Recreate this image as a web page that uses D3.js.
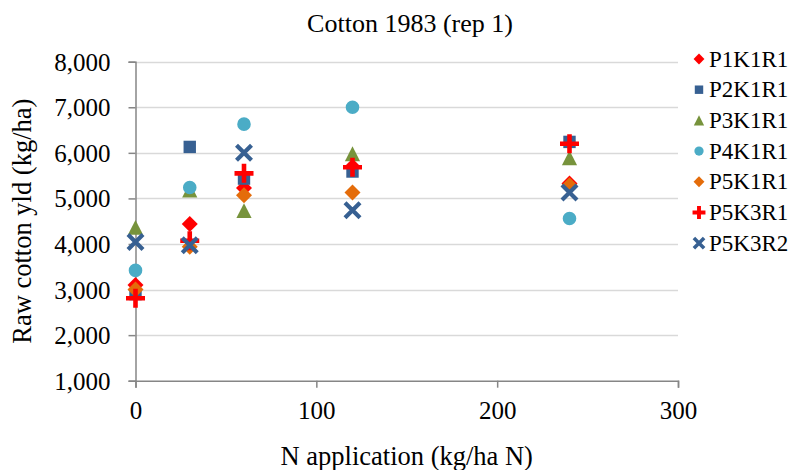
<!DOCTYPE html>
<html>
<head>
<meta charset="utf-8">
<script src="https://cdn.jsdelivr.net/npm/d3@7"></script>
<style>
  html, body { margin: 0; padding: 0; background: #fff; }
  svg { display: block; }
  svg text { font-family: "Liberation Serif", "Times New Roman", serif; }
</style>
</head>
<body>
<svg id="chart" width="796" height="470"></svg>
<script>
// Nitrogen rates (kg/ha N)
const nRates = [0, 30, 60, 120, 240];

// Raw cotton yield (kg/ha) per treatment, one value per N rate
const P1K1R1 = [3100, 4440, 5230, 5700, 5330];
const P2K1R1 = [2900, 6130, 5435, 5590, 6240];
const P3K1R1 = [4365, 5180, 4730, 5980, 5890];
const P4K1R1 = [3420, 5240, 6630, 7000, 4560];
const P5K1R1 = [3000, 3940, 5070, 5130, 5290];
const P5K3R1 = [2810, 4070, 5550, 5685, 6200];
const P5K3R2 = [4045, 3970, 6000, 4740, 5130];

const seriesNames = ["P1K1R1", "P2K1R1", "P3K1R1", "P4K1R1", "P5K1R1", "P5K3R1", "P5K3R2"];
const seriesValues = [P1K1R1, P2K1R1, P3K1R1, P4K1R1, P5K1R1, P5K3R1, P5K3R2];
const seriesColors = ["#ff0000", "#376092", "#77933c", "#4bacc6", "#e46c0a", "#ff0000", "#376092"];
const seriesShapes = ["diamond", "square", "triangle", "circle", "diamond", "plus", "cross"];

const xTicks = [0, 100, 200, 300];
const yTicks = [1000, 2000, 3000, 4000, 5000, 6000, 7000, 8000];

const titleText = "Cotton 1983 (rep 1)";
const xTitle = "N application (kg/ha N)";
const yTitle = "Raw cotton yld (kg/ha)";

const serif = "'Liberation Serif', 'Times New Roman', serif";

const svg = d3.select("#chart");
const plot = { left: 135.5, right: 678, top: 61.7, bottom: 380.7 };

const x = d3.scaleLinear().domain([0, 300]).range([plot.left, plot.right]);
const y = d3.scaleLinear().domain([1000, 8000]).range([plot.bottom, plot.top]);

// Marker geometry: s = 1 for plot markers, smaller for legend keys
function shapePath(shape, s) {
  switch (shape) {
    case "diamond": { const h = 8 * s; return `M0,${-h}L${h},0L0,${h}L${-h},0Z`; }
    case "square": { const h = 6.2 * s; return `M${-h},${-h}H${h}V${h}H${-h}Z`; }
    case "triangle": { const w = 7.6 * s, h = 7.4 * s; return `M0,${-h}L${w},${h}L${-w},${h}Z`; }
    case "circle": { const r = 6.8 * s; return `M${r},0A${r},${r} 0 1,1 ${-r},0A${r},${r} 0 1,1 ${r},0Z`; }
    case "plus": { const h = 9.5 * s; return `M${-h},0H${h}M0,${-h}V${h}`; }
    case "cross": { const h = 7.5 * s; return `M${-h},${-h}L${h},${h}M${h},${-h}L${-h},${h}`; }
  }
}
function drawMarker(g, shape, color, s) {
  const stroked = shape === "plus" || shape === "cross";
  g.append("path")
    .attr("d", shapePath(shape, s))
    .attr("fill", stroked ? "none" : color)
    .attr("stroke", stroked ? color : "none")
    .attr("stroke-width", stroked ? (shape === "plus" ? 4.6 : 4.2) * (s < 1 ? 0.85 : 1) : 0)
    .attr("stroke-linecap", "butt");
}

// Horizontal gridlines
svg.append("g")
  .selectAll("line")
  .data(yTicks.filter(v => v !== 1000))
  .join("line")
  .attr("x1", plot.left).attr("x2", plot.right)
  .attr("y1", d => Math.round(y(d)) + 0.5).attr("y2", d => Math.round(y(d)) + 0.5)
  .attr("stroke", "#d9d9d9").attr("stroke-width", 1.3);

// Y axis
const yAxis = svg.append("g")
  .attr("transform", `translate(${plot.left},0)`)
  .call(d3.axisLeft(y).tickValues(yTicks).tickSize(7).tickPadding(18).tickFormat(d3.format(",")))
  .attr("font-family", serif);
yAxis.select(".domain").attr("stroke", "#868686").attr("stroke-width", 1.5);
yAxis.selectAll(".tick line").attr("stroke", "#868686").attr("stroke-width", 1.5);
yAxis.selectAll(".tick text")
  .attr("font-size", 25).attr("fill", "#000").attr("dy", "0.34em")
  .attr("font-family", serif);

// X axis
const xAxis = svg.append("g")
  .attr("transform", `translate(0,${plot.bottom})`)
  .call(d3.axisBottom(x).tickValues(xTicks).tickSize(7).tickPadding(14).tickFormat(d3.format("d")))
  .attr("font-family", serif);
xAxis.select(".domain").attr("stroke", "#868686").attr("stroke-width", 1.5);
xAxis.selectAll(".tick line").attr("stroke", "#868686").attr("stroke-width", 1.5);
xAxis.selectAll(".tick text")
  .attr("font-size", 25).attr("fill", "#000")
  .attr("font-family", serif);

// Data markers, drawn series by series so later series sit on top
seriesValues.forEach((vals, i) => {
  const g = svg.append("g").attr("class", "series");
  vals.forEach((v, j) => {
    const m = g.append("g").attr("transform", `translate(${x(nRates[j])},${y(v)})`);
    drawMarker(m, seriesShapes[i], seriesColors[i], 1);
  });
});

// Title and axis titles
svg.append("text")
  .attr("x", 410).attr("y", 32)
  .attr("text-anchor", "middle").attr("font-size", 26).attr("font-family", serif)
  .text(titleText);

svg.append("text")
  .attr("x", (plot.left + plot.right) / 2).attr("y", 465)
  .attr("text-anchor", "middle").attr("font-size", 26.5).attr("font-family", serif)
  .text(xTitle);

svg.append("text")
  .attr("transform", `translate(31,${(plot.top + plot.bottom) / 2}) rotate(-90)`)
  .attr("text-anchor", "middle").attr("font-size", 26.5).attr("font-family", serif)
  .text(yTitle);

// Legend
const legend = svg.append("g");
seriesNames.forEach((name, i) => {
  const cy = 59 + i * 30.7;
  const item = legend.append("g").attr("transform", `translate(699,${cy})`);
  drawMarker(item, seriesShapes[i], seriesColors[i], 0.68);
  item.append("text")
    .attr("x", 10).attr("y", 7.6)
    .attr("font-size", 23).attr("font-family", serif)
    .text(name);
});
</script>
</body>
</html>
